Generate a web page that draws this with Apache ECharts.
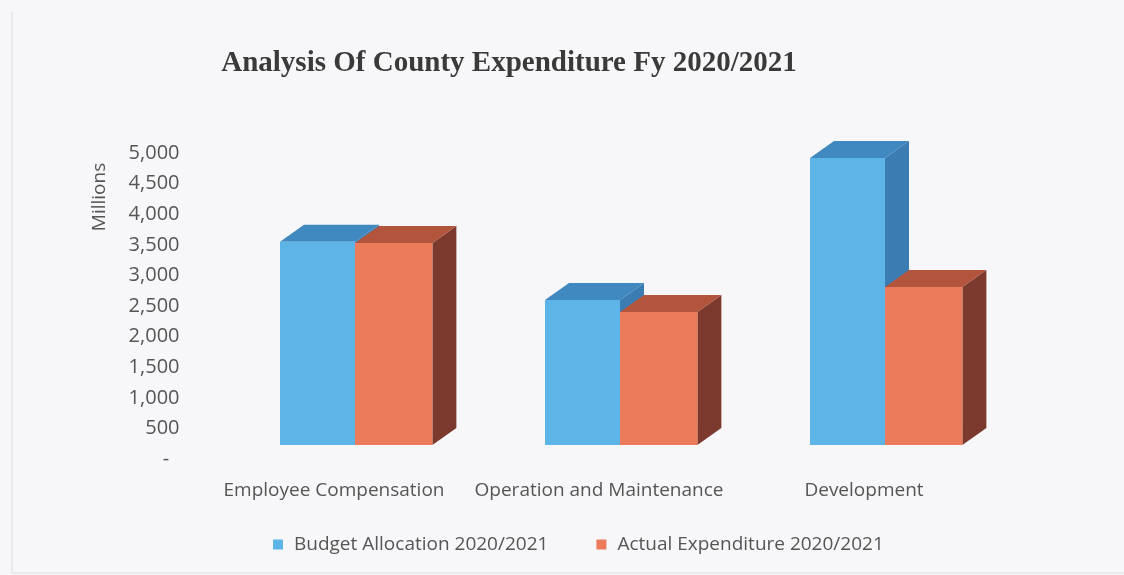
<!DOCTYPE html>
<html>
<head>
<meta charset="utf-8">
<title>Analysis Of County Expenditure Fy 2020/2021</title>
<script src="https://cdn.jsdelivr.net/npm/echarts@6/dist/echarts.min.js"></script>
<style>
  html, body { margin: 0; padding: 0; background: #f7f7f9; }
  #chart { width: 1124px; height: 575px; }
</style>
</head>
<body>
<div id="chart"></div>
<script>
// Expenditure categories and amounts (KES millions)
const categories = ['Employee Compensation', 'Operation and Maintenance', 'Development'];
const budgetAllocation = [3550, 2600, 4920];
const actualExpenditure = [3530, 2400, 2810];
const seriesNames = ['Budget Allocation 2020/2021', 'Actual Expenditure 2020/2021'];
const axisMax = 5000;
const axisStep = 500;

// Shading for the three visible faces of each 3D column
const palette = [
  { front: '#5db4e6', top: '#4088c0', side: '#3b7db2' },
  { front: '#ec7b5b', top: '#b3543c', side: '#7c3a2f' }
];

// Horizontal extent of each column inside its category band (fraction of band)
const barSpan = [[-0.283, 0], [0, 0.292]];
const depth = [24, -17];      // oblique depth vector of the columns
const floorLift = 14;         // front edge of the floor sits above the axis baseline

function makeRenderer(idx) {
  return function (params, api) {
    const cat = api.value(0);
    const val = api.value(1);
    const base = api.coord([cat, 0]);
    const top = api.coord([cat, val]);
    const band = api.size([1, 0])[0];
    const x0 = base[0] + band * barSpan[idx][0];
    const x1 = base[0] + band * barSpan[idx][1];
    const yB = base[1] - floorLift;
    const yT = top[1];
    const dx = depth[0], dy = depth[1];
    const c = palette[idx];
    return {
      type: 'group',
      children: [
        { type: 'polygon', shape: { points: [[x1, yT], [x1 + dx, yT + dy], [x1 + dx, yB + dy], [x1, yB]] },
          style: { fill: c.side } },
        { type: 'polygon', shape: { points: [[x0, yT], [x1, yT], [x1 + dx, yT + dy], [x0 + dx, yT + dy]] },
          style: { fill: c.top } },
        { type: 'rect', shape: { x: x0, y: yT, width: x1 - x0, height: yB - yT },
          style: { fill: c.front } }
      ]
    };
  };
}

const textColor = '#555555';
const uiFont = '"Open Sans", sans-serif';

const chart = echarts.init(document.getElementById('chart'), null, { renderer: 'canvas' });
chart.setOption({
  backgroundColor: '#f7f7f9',
  animation: false,
  title: {
    text: 'Analysis Of County Expenditure Fy 2020/2021',
    left: 504,
    top: 44,
    textAlign: 'center',
    textStyle: {
      fontFamily: '"Liberation Serif", "Times New Roman", serif',
      fontWeight: 'bold',
      fontSize: 29,
      color: '#3a3a3a'
    }
  },
  graphic: [
    { type: 'text', x: 100, y: 197, rotation: Math.PI / 2,
      style: { text: 'Millions', fontFamily: uiFont, fontSize: 19, fill: textColor,
               textAlign: 'center', textVerticalAlign: 'middle' } },
    { type: 'polyline', shape: { points: [[12, 12], [12, 573], [1124, 573]] },
      style: { stroke: '#dcdce0', lineWidth: 1, fill: null } }
  ],
  legend: {
    left: 268,
    top: 530,
    itemWidth: 10,
    itemHeight: 10,
    itemGap: 48,
    icon: 'rect',
    textStyle: { fontFamily: uiFont, fontSize: 19, color: textColor, padding: [0, 0, 0, 6] },
    data: seriesNames
  },
  grid: [
    { left: 222.5, right: 106.5, top: 153, bottom: 116 },
    { left: 201.5, right: 127.5, top: 153, bottom: 116 }
  ],
  xAxis: [
    { type: 'category', gridIndex: 0, data: categories, show: false },
    { type: 'category', gridIndex: 1, data: categories,
      axisLine: { show: false }, axisTick: { show: false },
      axisLabel: { margin: 22, fontFamily: uiFont, fontSize: 19, color: textColor, interval: 0 } }
  ],
  yAxis: [
    { type: 'value', gridIndex: 0, min: 0, max: axisMax, interval: axisStep,
      axisLine: { show: false }, axisTick: { show: false }, splitLine: { show: false },
      axisLabel: {
        margin: 43, fontFamily: uiFont, fontSize: 20, color: textColor,
        formatter: v => v === 0 ? '-  ' : v.toLocaleString('en-US')
      } },
    { type: 'value', gridIndex: 1, min: 0, max: axisMax, show: false }
  ],
  series: [
    { name: seriesNames[0], type: 'custom', xAxisIndex: 0, yAxisIndex: 0,
      itemStyle: { color: palette[0].front },
      renderItem: makeRenderer(0),
      data: budgetAllocation.map((v, i) => [i, v]) },
    { name: seriesNames[1], type: 'custom', xAxisIndex: 0, yAxisIndex: 0,
      itemStyle: { color: palette[1].front },
      renderItem: makeRenderer(1),
      data: actualExpenditure.map((v, i) => [i, v]) }
  ]
});
</script>
</body>
</html>
